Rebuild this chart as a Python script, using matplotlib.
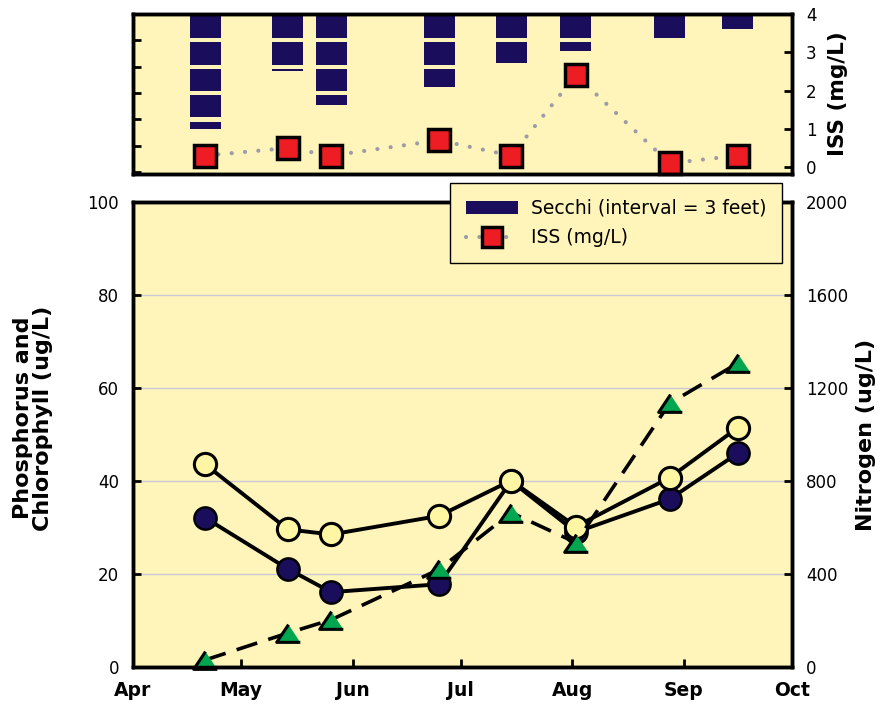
import matplotlib
matplotlib.use('Agg')
import matplotlib.pyplot as plt
import matplotlib.dates as mdates
import numpy as np
from matplotlib.lines import Line2D
from matplotlib.patches import Patch

plt.rcParams['font.family'] = ['DejaVu Sans']

# sampling dates and values
dates = np.array(['2000-04-21', '2000-05-14', '2000-05-26', '2000-06-25',
                  '2000-07-15', '2000-08-02', '2000-08-28', '2000-09-16'], dtype='datetime64[D]')
secchi_ft = [13.1, 6.5, 10.3, 8.3, 5.6, 4.2, 2.85, 1.7]
iss = [0.3, 0.5, 0.3, 0.7, 0.3, 2.4, 0.1, 0.3]
phosphorus = [32.1, 21.1, 16.1, 17.8, 40.0, 29.0, 36.1, 46.0]
chlorophyll = [43.6, 29.6, 28.5, 32.5, 40.1, 30.2, 40.7, 51.5]
nitrogen = [30, 146, 203, 420, 664, 535, 1134, 1307]

month_labels = ['Apr', 'May', 'Jun', 'Jul', 'Aug', 'Sep', 'Oct']
month_starts = np.arange('2000-04', '2000-11', dtype='datetime64[M]').astype('datetime64[D]')

bg = '#FFF4B9'
navy = '#1A0D5B'
red = '#EE1D24'
green = '#00A650'
pale = '#FFF6A3'
dotgray = '#9C9CA6'

x = mdates.date2num(dates.astype('datetime64[s]').astype(object))
xm = mdates.date2num(month_starts.astype('datetime64[s]').astype(object))

fig = plt.figure(figsize=(8.94, 7.04), dpi=100)
ax_top = fig.add_axes([133/894, 1-174/704, 659/894, 160/704])
ax = fig.add_axes([133/894, 1-667/704, 659/894, 465/704])

spine_w = 2.5
tick_kw = dict(direction='in', length=6, width=2, labelsize=12, pad=10)

# ---- top panel: Secchi bars + ISS
ax_top.set_facecolor(bg)
bar_w = 8.6
gap = 0.46
for xi, d in zip(x, secchi_ft):
    top = 0.0
    while top < d:
        s_top = top + gap/2
        s_bot = min(top + 3 - gap/2, d)
        if s_bot > s_top:
            ax_top.bar(xi, s_bot - s_top, bottom=s_top, width=bar_w, color=navy, linewidth=0)
        top += 3
ax_top.set_ylim(18.2, 0)
ax_top.set_yticks(np.arange(0, 19, 3))
ax_top.set_yticklabels([])
ax_top.set_xlim(xm[0], xm[-1])
ax_top.set_xticks([])
ax_top.tick_params(axis='y', **tick_kw)

ax_iss = ax_top.twinx()
ax_iss.plot(x, iss, color=dotgray, lw=3, linestyle=(0, (0.01, 3.2)), dash_capstyle='round',
            marker='s', ms=16, mfc=red, mec='black', mew=2.5, clip_on=False)
ax_iss.set_ylim(-0.18, 4)
ax_iss.set_yticks([0, 1, 2, 3, 4])
ax_iss.tick_params(axis='y', **tick_kw)
ax_iss.set_ylabel('ISS (mg/L)', fontsize=15.5, fontweight='bold', labelpad=8)
for a in (ax_top, ax_iss):
    for sp in a.spines.values():
        sp.set_linewidth(spine_w)

# ---- bottom panel: P, Chl, N
ax.set_facecolor(bg)
ax.grid(axis='y', color='#C9CAD6', lw=1)
ax.set_axisbelow(True)
ax.plot(x, phosphorus, color='black', lw=2.8, marker='o', ms=16, mfc=navy, mec='black', mew=1.8,
        zorder=3, clip_on=False)
ax.plot(x, chlorophyll, color='black', lw=2.8, marker='o', ms=16, mfc=pale, mec='black', mew=2.2,
        zorder=4, clip_on=False)
ax.set_xlim(xm[0], xm[-1])
ax.set_ylim(0, 100)
ax.set_yticks(np.arange(0, 101, 20))
ax.set_xticks(xm)
ax.set_xticklabels(month_labels, fontweight='bold')
ax.tick_params(axis='both', **tick_kw)
ax.tick_params(axis='x', labelsize=13.5, pad=10)

ax_n = ax.twinx()
tri = [(0, 0.75), (-1, -0.75), (1, -0.75)]
ax_n.plot(x, nitrogen, color='black', lw=2.6, linestyle=(0, (6, 3.2)),
          marker=tri, ms=17, mfc=green, mec='black', mew=2.2, clip_on=False)
ax_n.set_ylim(0, 2000)
ax_n.set_yticks(np.arange(0, 2001, 400))
ax_n.tick_params(axis='y', **tick_kw)
ax_n.set_ylabel('Nitrogen (ug/L)', fontsize=16, fontweight='bold', labelpad=6)
for a in (ax, ax_n):
    for sp in a.spines.values():
        sp.set_linewidth(spine_w)

fig.text(33/894, 1-418/704, 'Phosphorus and\nChlorophyll (ug/L)', rotation=90,
         ha='center', va='center', fontsize=16, fontweight='bold', linespacing=1.0)

handles = [Patch(facecolor=navy, edgecolor='none'),
           Line2D([], [], color=dotgray, lw=3, linestyle=(0, (0.01, 3.2)), dash_capstyle='round',
                  marker='s', ms=15, mfc=red, mec='black', mew=2.5)]
leg = fig.legend(handles, ['Secchi (interval = 3 feet)', 'ISS (mg/L)'],
                 loc='upper left', bbox_to_anchor=(450/894, 1-183/704), borderaxespad=0,
                 fontsize=13.5, frameon=True, fancybox=False, framealpha=1,
                 facecolor=bg, edgecolor='black', handlelength=2.8, handletextpad=0.65,
                 borderpad=0.85, labelspacing=0.55)
leg.get_frame().set_linewidth(1)

fig.savefig('out.png', dpi=100)
